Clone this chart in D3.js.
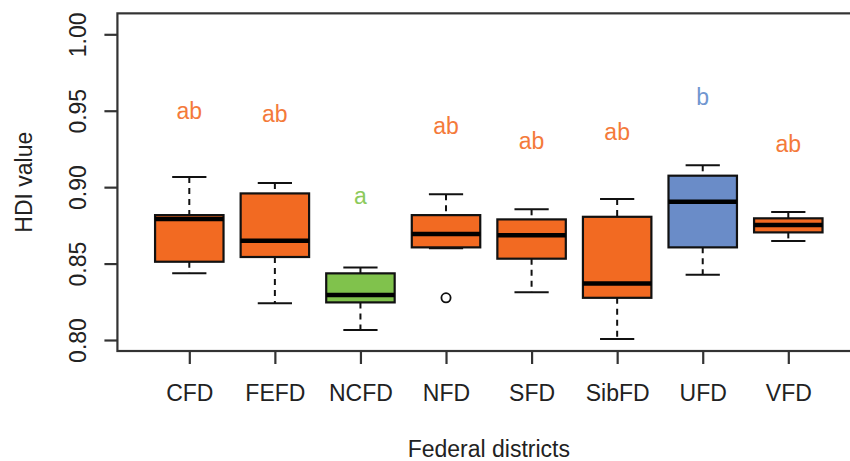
<!DOCTYPE html>
<html>
<head>
<meta charset="utf-8">
<script src="https://cdn.jsdelivr.net/npm/d3@7"></script>
<style>
  body { margin: 0; background: #fff; }
  text { font-family: "Liberation Sans", Arial, sans-serif; }
</style>
</head>
<body>
<div class="chart"></div>
<script>
// data
var districts = ["CFD", "FEFD", "NCFD", "NFD", "SFD", "SibFD", "UFD", "VFD"];
var lowWhisker = [0.8436, 0.8240, 0.8065, 0.8600, 0.8312, 0.8006, 0.8427, 0.8647];
var q1 = [0.8512, 0.8543, 0.8246, 0.8606, 0.8532, 0.8276, 0.8606, 0.8704];
var medians = [0.8791, 0.8649, 0.8294, 0.8693, 0.8685, 0.8370, 0.8905, 0.8752];
var q3 = [0.8817, 0.8959, 0.8436, 0.8817, 0.8789, 0.8806, 0.9075, 0.8796];
var highWhisker = [0.9066, 0.9027, 0.8475, 0.8953, 0.8855, 0.8922, 0.9143, 0.8837];
var outliers = [[], [], [], [0.8276], [], [], [], []];
var groups = ["ab", "ab", "a", "ab", "ab", "ab", "b", "ab"];
var groupY = [0.9446, 0.9424, 0.8887, 0.9346, 0.9247, 0.9308, 0.9537, 0.9228];
var yTicks = [0.80, 0.85, 0.90, 0.95, 1.00];

var boxFill = {ab: "#f26a22", a: "#80c24c", b: "#6a8cc8"};
var letterFill = {ab: "#f47a3a", a: "#8cca5c", b: "#7096d0"};

var svgWidth = 850;
var svgHeight = 461;

var svg = d3.select(".chart")
  .append("svg")
  .attr("width", svgWidth)
  .attr("height", svgHeight);

// scales
var x = d3.scaleLinear().domain([1, 8]).range([189.3, 788.3]);
var y = d3.scaleLinear().domain([0.80, 1.00]).range([340, 34.3]);
var step = x(2) - x(1);
var boxW = step * 0.8;
var capW = boxW * 0.5;

var plotTop = y(1.0137), plotBottom = y(0.7928);
var plotLeft = x(0.16), plotRight = x(8.84);

var data = districts.map(function(d, i) {
  return {
    name: d, pos: i + 1, lo: lowWhisker[i], q1: q1[i], med: medians[i],
    q3: q3[i], hi: highWhisker[i], out: outliers[i], grp: groups[i], gy: groupY[i]
  };
});

var g = svg.selectAll(".box")
  .data(data)
  .enter()
  .append("g")
  .attr("class", "box");

// whiskers
g.append("line")
  .attr("x1", function(d) { return x(d.pos); })
  .attr("x2", function(d) { return x(d.pos); })
  .attr("y1", function(d) { return y(d.hi); })
  .attr("y2", function(d) { return y(d.q3); })
  .attr("stroke", "#111").attr("stroke-width", 2)
  .attr("stroke-dasharray", "6,5");
g.append("line")
  .attr("x1", function(d) { return x(d.pos); })
  .attr("x2", function(d) { return x(d.pos); })
  .attr("y1", function(d) { return y(d.q1); })
  .attr("y2", function(d) { return y(d.lo); })
  .attr("stroke", "#111").attr("stroke-width", 2)
  .attr("stroke-dasharray", "6,5");

// staples
["hi", "lo"].forEach(function(k) {
  g.append("line")
    .attr("x1", function(d) { return x(d.pos) - capW / 2; })
    .attr("x2", function(d) { return x(d.pos) + capW / 2; })
    .attr("y1", function(d) { return y(d[k]); })
    .attr("y2", function(d) { return y(d[k]); })
    .attr("stroke", "#111").attr("stroke-width", 2);
});

// boxes
g.append("rect")
  .attr("x", function(d) { return x(d.pos) - boxW / 2; })
  .attr("width", boxW)
  .attr("y", function(d) { return y(d.q3); })
  .attr("height", function(d) { return y(d.q1) - y(d.q3); })
  .attr("fill", function(d) { return boxFill[d.grp]; })
  .attr("stroke", "#111").attr("stroke-width", 2.2);

// medians
g.append("line")
  .attr("x1", function(d) { return x(d.pos) - boxW / 2; })
  .attr("x2", function(d) { return x(d.pos) + boxW / 2; })
  .attr("y1", function(d) { return y(d.med); })
  .attr("y2", function(d) { return y(d.med); })
  .attr("stroke", "#000").attr("stroke-width", 4.5);

// outliers
g.selectAll(".out")
  .data(function(d) { return d.out.map(function(v) { return {pos: d.pos, v: v}; }); })
  .enter()
  .append("circle")
  .attr("cx", function(d) { return x(d.pos); })
  .attr("cy", function(d) { return y(d.v); })
  .attr("r", 4.6)
  .attr("fill", "none")
  .attr("stroke", "#111").attr("stroke-width", 1.8);

// group letters
g.append("text")
  .attr("x", function(d) { return x(d.pos); })
  .attr("y", function(d) { return y(d.gy); })
  .attr("text-anchor", "middle")
  .attr("font-size", 23)
  .attr("fill", function(d) { return letterFill[d.grp]; })
  .text(function(d) { return d.grp; });

// frame
svg.append("rect")
  .attr("x", plotLeft).attr("y", plotTop)
  .attr("width", plotRight - plotLeft).attr("height", plotBottom - plotTop)
  .attr("fill", "none")
  .attr("stroke", "#333").attr("stroke-width", 2.2);

// y axis
var leftAxis = d3.axisLeft(y)
  .tickValues(yTicks)
  .tickSize(13)
  .tickPadding(0)
  .tickFormat(d3.format(".2f"));
var ya = svg.append("g")
  .attr("transform", "translate(" + plotLeft + ",0)")
  .call(leftAxis);
ya.select(".domain").remove();
ya.selectAll(".tick line").attr("stroke", "#333").attr("stroke-width", 2.2);
ya.selectAll(".tick text")
  .attr("font-family", "Liberation Sans, Arial, sans-serif")
  .attr("font-size", 23)
  .attr("fill", "#222")
  .attr("text-anchor", "middle")
  .attr("dy", 0)
  .attr("x", 0)
  .attr("transform", "translate(" + (86 - plotLeft) + ",0) rotate(-90)");

// x axis
var bottomAxis = d3.axisBottom(x)
  .tickValues(d3.range(1, districts.length + 1))
  .tickSize(13)
  .tickPadding(0)
  .tickFormat(function(d) { return districts[d - 1]; });
var xa = svg.append("g")
  .attr("transform", "translate(0," + plotBottom + ")")
  .call(bottomAxis);
xa.select(".domain").remove();
xa.selectAll(".tick line").attr("stroke", "#333").attr("stroke-width", 2.2);
xa.selectAll(".tick text")
  .attr("font-family", "Liberation Sans, Arial, sans-serif")
  .attr("font-size", 23)
  .attr("fill", "#222")
  .attr("dy", 0)
  .attr("y", 401 - plotBottom);

// axis titles
svg.append("text")
  .attr("x", (plotLeft + plotRight) / 2)
  .attr("y", 457)
  .attr("text-anchor", "middle")
  .attr("font-size", 23)
  .attr("fill", "#222")
  .text("Federal districts");

svg.append("text")
  .attr("transform", "translate(31.7," + ((plotTop + plotBottom) / 2) + ") rotate(-90)")
  .attr("text-anchor", "middle")
  .attr("font-size", 23)
  .attr("fill", "#222")
  .text("HDI value");
</script>
</body>
</html>
